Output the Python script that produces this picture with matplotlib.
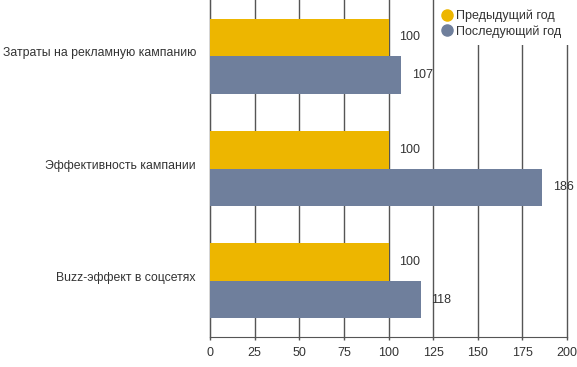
import matplotlib
matplotlib.use("Agg")
import matplotlib.pyplot as plt
from matplotlib.lines import Line2D
from matplotlib.patches import Rectangle
import matplotlib.transforms as mtransforms
import numpy as np

plt.rcParams['font.family'] = ['Liberation Sans', 'DejaVu Sans']

categories = ["Затраты на рекламную кампанию", "Эффективность кампании", "Buzz-эффект в соцсетях"]
prev_year = [100, 100, 100]
last_year = [107, 186, 118]
series_names = ["Предыдущий год", "Последующий год"]
xticks = [0, 25, 50, 75, 100, 125, 150, 175, 200]

c_prev = "#EDB600"
c_last = "#6F7F9C"
grid_c = "#555555"
text_c = "#333333"

fig = plt.figure(figsize=(5.77, 3.67), dpi=100)
ax = fig.add_axes([210/577, 30/367, 357/577, 337/367])

y = np.arange(len(categories))
h = 1/3
ax.barh(y - h/2, prev_year, height=h, color=c_prev, zorder=3)
ax.barh(y + h/2, last_year, height=h, color=c_last, zorder=3)

for yi, v in zip(y, prev_year):
    ax.text(v + 6, yi - h/2, str(v), va='center', ha='left', fontsize=9, color=text_c, zorder=4)
for yi, v in zip(y, last_year):
    ax.text(v + 6, yi + h/2, str(v), va='center', ha='left', fontsize=9, color=text_c, zorder=4)

ax.set_xlim(0, 200)
ax.set_ylim(len(categories) - 0.5, -0.5)
ax.set_xticks(xticks)
ax.set_yticks(y)
ax.set_yticklabels([])
ax.tick_params(axis='y', length=0)
lbl_tr = ax.get_yaxis_transform() + mtransforms.ScaledTranslation(-14/100, 3/100, fig.dpi_scale_trans)
for yi, cat in zip(y, categories):
    ax.text(0, yi, cat, transform=lbl_tr, ha='right', va='center', fontsize=8.8,
            color=text_c, clip_on=False)
ax.tick_params(axis='x', length=2, width=1, color=grid_c, labelsize=9, labelcolor=text_c, pad=5)

ax.grid(axis='x', color=grid_c, linewidth=1, zorder=0)
ax.set_axisbelow(True)
for gl in ax.get_xgridlines():
    gl.set_clip_on(False)
for s in ['top', 'right']:
    ax.spines[s].set_visible(False)
ax.spines['left'].set_color(grid_c)
ax.spines['bottom'].set_color(grid_c)

fig.patches.append(Rectangle((437/577, 1 - 45/367), 140/577, 45/367, transform=fig.transFigure,
                             facecolor='white', edgecolor='none', zorder=5))

handles = [Line2D([], [], marker='o', linestyle='none', markersize=8, color=c_prev),
           Line2D([], [], marker='o', linestyle='none', markersize=8, color=c_last)]
leg = fig.legend(handles, series_names, loc='upper right', bbox_to_anchor=(571/577, 1.0),
                 frameon=False, fontsize=9, handletextpad=0.1, labelspacing=0.2,
                 borderaxespad=0.3, borderpad=0.5, handlelength=1.2, labelcolor=text_c)
leg.set_zorder(10)

fig.savefig("out.png", dpi=100, facecolor='white')
